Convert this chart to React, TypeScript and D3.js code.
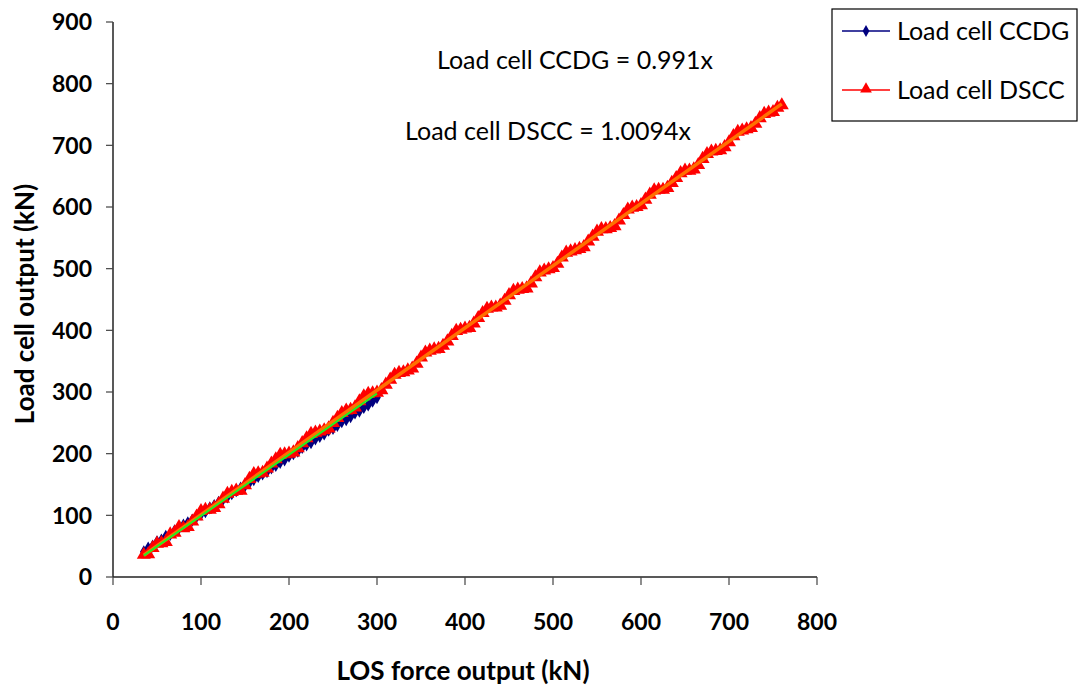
import React from "react";
import * as d3 from "d3";

// LOS force output (kN) vs load cell output (kN)
const ccdgX = [35, 40, 45, 50, 55, 60, 65, 70, 75, 80, 85, 90, 95, 100, 105, 110, 115, 120, 125, 130, 135, 140, 145, 150, 155, 160, 165, 170, 175, 180, 185, 190, 195, 200, 205, 210, 215, 220, 225, 230, 235, 240, 245, 250, 255, 260, 265, 270, 275, 280, 285, 290, 295, 300];
const ccdgY = [41, 47, 50, 57, 60, 66, 69, 75, 79, 84, 88, 92, 98, 102, 106, 112, 116, 121, 126, 130, 135, 140, 144, 148, 153, 158, 163, 167, 171, 177, 181, 186, 190, 196, 200, 204, 210, 214, 218, 224, 228, 232, 238, 241, 246, 252, 255, 260, 266, 269, 275, 279, 285, 291];

const dsccX = [35, 40, 45, 50, 55, 60, 65, 70, 75, 80, 85, 90, 95, 100, 105, 110, 115, 120, 125, 130, 135, 140, 145, 150, 155, 160, 165, 170, 175, 180, 185, 190, 195, 200, 205, 210, 215, 220, 225, 230, 235, 240, 245, 250, 255, 260, 265, 270, 275, 280, 285, 290, 295, 300, 305, 310, 315, 320, 325, 330, 335, 340, 345, 350, 355, 360, 365, 370, 375, 380, 385, 390, 395, 400, 405, 410, 415, 420, 425, 430, 435, 440, 445, 450, 455, 460, 465, 470, 475, 480, 485, 490, 495, 500, 505, 510, 515, 520, 525, 530, 535, 540, 545, 550, 555, 560, 565, 570, 575, 580, 585, 590, 595, 600, 605, 610, 615, 620, 625, 630, 635, 640, 645, 650, 655, 660, 665, 670, 675, 680, 685, 690, 695, 700, 705, 710, 715, 720, 725, 730, 735, 740, 745, 750, 755, 760];
const dsccY = [36, 37, 47, 54, 55, 57, 69, 72, 81, 79, 81, 90, 98, 107, 109, 109, 112, 118, 127, 135, 138, 140, 140, 149, 159, 167, 168, 169, 176, 184, 191, 198, 199, 200, 202, 209, 217, 225, 232, 234, 236, 238, 241, 250, 258, 266, 270, 271, 275, 285, 293, 297, 298, 299, 303, 312, 320, 328, 331, 332, 335, 338, 346, 356, 364, 367, 369, 370, 375, 382, 391, 399, 401, 403, 404, 411, 420, 428, 435, 437, 437, 440, 448, 457, 464, 466, 467, 468, 476, 486, 494, 497, 499, 501, 508, 518, 526, 528, 530, 532, 535, 544, 552, 560, 564, 564, 566, 569, 578, 587, 596, 599, 600, 603, 612, 620, 627, 628, 628, 631, 639, 647, 655, 659, 659, 661, 668, 678, 686, 690, 691, 692, 697, 705, 715, 722, 724, 726, 728, 735, 744, 751, 753, 754, 761, 765];

const slopeCCDG = 0.991;
const slopeDSCC = 1.0094;

const xTicks = [0, 100, 200, 300, 400, 500, 600, 700, 800];
const yTicks = [0, 100, 200, 300, 400, 500, 600, 700, 800, 900];

const seriesNames = ["Load cell CCDG", "Load cell DSCC"];
const eqLabels = ["Load cell CCDG = 0.991x", "Load cell DSCC = 1.0094x"];
const xTitle = "LOS force output (kN)";
const yTitle = "Load cell output (kN)";

const FONT = "Lato, 'Open Sans', sans-serif";

export default function App() {
  const W = 1079, H = 686;
  const x = d3.scaleLinear().domain([0, 800]).range([113, 817]);
  const y = d3.scaleLinear().domain([0, 900]).range([577, 22]);

  const ccdg = ccdgX.map((v, i) => [v, ccdgY[i]] as [number, number]);
  const dscc = dsccX.map((v, i) => [v, dsccY[i]] as [number, number]);
  const line = d3.line<[number, number]>().x(d => x(d[0])).y(d => y(d[1]));

  const tri = d3.symbol().type(d3.symbolTriangle).size(85)();
  const dia = d3.symbol().type(d3.symbolDiamond).size(50)();
  const triLeg = d3.symbol().type(d3.symbolTriangle).size(60)();
  const diaLeg = d3.symbol().type(d3.symbolDiamond).size(40)();

  const ccdgMin = d3.min(ccdgX)!, ccdgMax = d3.max(ccdgX)!;
  const dsccMin = d3.min(dsccX)!, dsccMax = d3.max(dsccX)!;

  return (
    <svg width={W} height={H} style={{ position: "absolute", left: 0, top: 0, background: "#fff" }} fontFamily={FONT}>
      {/* axes */}
      <line x1={x(0)} x2={x(0)} y1={y(0)} y2={y(900)} stroke="#222" strokeWidth={1.5} />
      <line x1={x(0)} x2={x(800)} y1={y(0)} y2={y(0)} stroke="#222" strokeWidth={1.5} />
      {yTicks.map(t => (
        <g key={"y" + t}>
          <line x1={x(0) - 7} x2={x(0)} y1={y(t)} y2={y(t)} stroke="#444" strokeWidth={1.2} />
          <text x={x(0) - 21} y={y(t)} dy="0.36em" textAnchor="end" fontSize={23} fontWeight="bold" fill="#000">{t}</text>
        </g>
      ))}
      {xTicks.map(t => (
        <g key={"x" + t}>
          <line x1={x(t)} x2={x(t)} y1={y(0)} y2={y(0) + 8} stroke="#444" strokeWidth={1.2} />
          <text x={x(t)} y={630} textAnchor="middle" fontSize={23} fontWeight="bold" fill="#000">{t}</text>
        </g>
      ))}
      <text x={463} y={680} textAnchor="middle" fontSize={26} fontWeight="bold">{xTitle}</text>
      <text transform={`translate(34,${304}) rotate(-90)`} textAnchor="middle" fontSize={26} fontWeight="bold">{yTitle}</text>

      {/* CCDG series */}
      <path d={line(ccdg)!} fill="none" stroke="#000080" strokeWidth={2} />
      {ccdg.map((d, i) => (
        <path key={"c" + i} d={dia!} transform={`translate(${x(d[0])},${y(d[1])})`} fill="#000080" />
      ))}
      {/* DSCC series */}
      <path d={line(dscc)!} fill="none" stroke="#ff0000" strokeWidth={3} />
      {dscc.map((d, i) => (
        <path key={"d" + i} d={tri!} transform={`translate(${x(d[0])},${y(d[1])})`} fill="#ff0000" />
      ))}
      {/* trendlines */}
      <line x1={x(dsccMin)} y1={y(dsccMin * slopeDSCC)} x2={x(dsccMax)} y2={y(dsccMax * slopeDSCC)} stroke="#ff7000" strokeWidth={3.5} />
      <line x1={x(ccdgMin)} y1={y(ccdgMin * slopeCCDG)} x2={x(ccdgMax)} y2={y(ccdgMax * slopeCCDG)} stroke="#22ee22" strokeWidth={2} />

      {/* equations */}
      <text x={575} y={69} textAnchor="middle" fontSize={25} fill="#000">{eqLabels[0]}</text>
      <text x={548} y={140} textAnchor="middle" fontSize={25} fill="#000">{eqLabels[1]}</text>

      {/* legend */}
      <rect x={832} y={9} width={245} height={112} fill="#fff" stroke="#000" strokeWidth={1.2} />
      <line x1={842} x2={890} y1={31} y2={31} stroke="#000080" strokeWidth={1.5} />
      <path d={diaLeg!} transform="translate(866,31)" fill="#000080" />
      <text x={897} y={31} dy="0.36em" fontSize={25}>{seriesNames[0]}</text>
      <line x1={842} x2={890} y1={90} y2={90} stroke="#ff0000" strokeWidth={1.5} />
      <path d={triLeg!} transform="translate(866,89)" fill="#ff0000" />
      <text x={897} y={90} dy="0.36em" fontSize={25}>{seriesNames[1]}</text>
    </svg>
  );
}
